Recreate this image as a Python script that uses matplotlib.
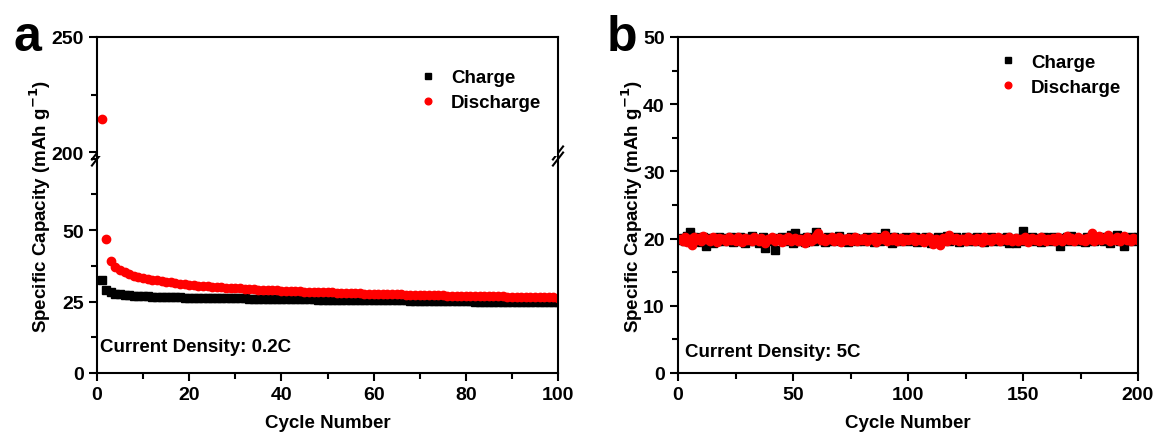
import matplotlib
matplotlib.use("Agg")
import matplotlib.pyplot as plt
from matplotlib.ticker import MultipleLocator

plt.rcParams['font.family'] = ['Liberation Sans', 'DejaVu Sans']
plt.rcParams['font.weight'] = 'bold'
plt.rcParams['mathtext.default'] = 'bf'

# panel a data (cycles 1..100, 0.2C)
cycles_a = list(range(1, 101))
charge_a = [
    32.5, 29.0, 28.2, 27.8, 27.5, 27.3, 27.2, 27.1, 27.0, 26.9,
    26.8, 26.7, 26.7, 26.6, 26.6, 26.5, 26.5, 26.5, 26.4, 26.4,
    26.4, 26.3, 26.3, 26.3, 26.2, 26.2, 26.2, 26.2, 26.1, 26.1,
    26.1, 26.1, 26.0, 26.0, 26.0, 26.0, 26.0, 25.9, 25.9, 25.9,
    25.9, 25.9, 25.8, 25.8, 25.8, 25.8, 25.8, 25.7, 25.7, 25.7,
    25.7, 25.7, 25.6, 25.6, 25.6, 25.6, 25.6, 25.5, 25.5, 25.5,
    25.5, 25.5, 25.4, 25.4, 25.4, 25.4, 25.4, 25.3, 25.3, 25.3,
    25.3, 25.3, 25.2, 25.2, 25.2, 25.2, 25.2, 25.1, 25.1, 25.1,
    25.1, 25.0, 25.0, 25.0, 25.0, 25.0, 24.9, 24.9, 24.9, 24.9,
    24.9, 24.8, 24.8, 24.8, 24.8, 24.8, 24.7, 24.7, 24.7, 24.7,
]
discharge_a = [
    214.5, 47.0, 39.0, 37.0, 36.0, 35.2, 34.6, 34.1, 33.7, 33.3,
    33.0, 32.7, 32.4, 32.1, 31.9, 31.7, 31.5, 31.3, 31.1, 30.9,
    30.8, 30.6, 30.5, 30.3, 30.2, 30.1, 30.0, 29.9, 29.8, 29.7,
    29.6, 29.5, 29.4, 29.3, 29.2, 29.1, 29.0, 29.0, 28.9, 28.8,
    28.8, 28.7, 28.6, 28.6, 28.5, 28.5, 28.4, 28.3, 28.3, 28.2,
    28.2, 28.1, 28.1, 28.0, 28.0, 27.9, 27.9, 27.8, 27.8, 27.7,
    27.7, 27.6, 27.6, 27.6, 27.5, 27.5, 27.4, 27.4, 27.4, 27.3,
    27.3, 27.3, 27.2, 27.2, 27.2, 27.1, 27.1, 27.1, 27.0, 27.0,
    27.0, 26.9, 26.9, 26.9, 26.8, 26.8, 26.8, 26.8, 26.7, 26.7,
    26.7, 26.6, 26.6, 26.6, 26.6, 26.5, 26.5, 26.5, 26.5, 26.4,
]

# panel b data (cycles 1..200, 5C)
cycles_b = list(range(1, 201))
charge_b = [
    19.8, 20.1, 19.6, 20.4, 21.0, 19.9, 20.2, 19.7, 20.0, 19.5, 20.3, 18.9, 19.8, 20.1, 19.4, 20.0, 19.7, 20.2, 19.9, 19.6,
    20.1, 19.8, 20.3, 19.5, 20.0, 19.7, 20.2, 19.9, 19.4, 20.1, 19.8, 20.4, 19.6, 20.0, 19.3, 19.9, 20.2, 18.6, 19.8, 20.0,
    19.7, 18.3, 20.1, 19.9, 20.3, 19.6, 20.0, 19.8, 20.5, 19.4, 20.9, 19.7, 20.1, 19.9, 19.5, 20.2, 19.8, 20.0, 19.6, 21.0,
    20.3, 19.8, 20.0, 19.5, 20.2, 19.9, 19.7, 20.1, 19.8, 20.4, 19.6, 20.0, 19.9, 19.5, 20.2, 19.8, 20.1, 19.7, 20.0, 19.9,
    19.6, 20.2, 19.8, 20.0, 19.5, 20.3, 19.9, 19.7, 20.1, 20.9, 19.8, 20.0, 19.4, 20.2, 19.9, 19.7, 20.1, 19.8, 20.3, 19.6,
    20.0, 19.8, 20.2, 19.5, 19.9, 20.1, 19.7, 20.3, 19.8, 19.4, 20.0, 19.9, 20.2, 19.6, 20.1, 19.8, 20.4, 19.7, 20.0, 19.9,
    20.2, 19.5, 20.0, 19.8, 20.3, 19.7, 20.1, 19.9, 19.6, 20.2, 19.8, 20.0, 19.5, 20.1, 19.9, 20.3, 19.7, 20.0, 19.8, 19.6,
    20.1, 19.9, 20.2, 19.4, 20.0, 19.8, 19.3, 20.1, 19.9, 21.1, 19.7, 20.0, 19.8, 20.3, 19.6, 20.1, 19.9, 19.5, 20.2, 19.8,
    20.0, 19.7, 20.3, 19.9, 20.1, 18.9, 20.0, 19.8, 20.2, 19.6, 20.4, 19.9, 20.1, 19.7, 20.0, 19.8, 19.5, 20.2, 19.9, 20.1,
    19.7, 20.0, 19.8, 20.3, 19.6, 20.1, 19.9, 19.4, 20.2, 19.8, 20.6, 19.7, 20.0, 18.9, 20.1, 19.8, 20.3, 19.6, 20.0, 20.2,
]
discharge_b = [
    20.0, 19.7, 20.2, 19.5, 19.9, 19.1, 20.3, 19.8, 20.1, 19.6, 20.4, 19.9, 20.0, 19.7, 20.2, 19.8, 19.5, 20.1, 19.9, 20.0,
    19.6, 20.2, 19.8, 20.0, 19.7, 20.3, 19.9, 19.5, 20.1, 19.8, 20.0, 19.6, 20.2, 19.9, 19.7, 20.1, 19.8, 19.4, 20.0, 19.9,
    20.2, 19.7, 19.9, 20.1, 19.5, 20.0, 19.8, 20.3, 19.6, 19.9, 20.1, 19.7, 20.0, 19.8, 19.4, 20.2, 19.9, 19.6, 20.0, 20.4,
    20.9, 19.8, 20.1, 19.6, 20.0, 19.9, 20.3, 19.7, 19.9, 20.2, 19.5, 20.0, 19.8, 20.1, 19.7, 19.9, 20.2, 19.6, 20.0, 19.8,
    20.1, 19.7, 20.0, 19.9, 20.3, 19.5, 19.8, 20.1, 19.9, 20.6, 19.7, 20.0, 19.8, 20.2, 19.6, 19.9, 20.1, 19.7, 20.0, 19.8,
    19.9, 20.2, 19.6, 20.0, 19.8, 20.1, 19.5, 19.9, 20.3, 19.7, 19.2, 20.0, 19.8, 19.1, 20.1, 19.9, 19.6, 20.6, 20.0, 19.8,
    20.1, 19.7, 20.0, 19.9, 19.6, 20.2, 19.8, 20.0, 19.7, 20.1, 19.9, 19.5, 20.2, 19.8, 20.0, 19.6, 20.1, 19.9, 20.3, 19.7,
    19.9, 20.0, 19.8, 20.2, 19.6, 19.9, 20.1, 19.7, 20.0, 19.8, 20.3, 19.5, 19.9, 20.1, 19.8, 20.0, 19.7, 20.2, 19.9, 19.6,
    20.0, 19.8, 20.1, 19.7, 20.3, 19.9, 19.6, 20.0, 20.4, 19.8, 20.1, 19.7, 19.9, 20.2, 19.8, 20.0, 19.6, 20.1, 19.9, 20.8,
    19.7, 20.0, 20.4, 19.8, 20.1, 19.9, 20.5, 19.7, 20.0, 19.8, 20.2, 19.6, 19.9, 20.4, 19.8, 20.0, 19.7, 20.1, 19.9, 19.8,
]

W, H = 1156, 439
fig = plt.figure(figsize=(W / 100, H / 100), dpi=100)

def box(x0, y0, x1, y1):
    # pixel box (top-left origin) -> figure fraction
    return [x0 / W, 1 - y1 / H, (x1 - x0) / W, (y1 - y0) / H]

TICK_FS = 14
LABEL_FS = 13.5
TEXT_FS = 13.5
LW = 1.5

def style(ax, left=True, bottom=True):
    for s in ax.spines.values():
        s.set_linewidth(LW)
    ax.tick_params(which='both', direction='out', width=LW, top=False, right=False,
                   labelsize=TICK_FS, left=left, labelleft=left,
                   bottom=bottom, labelbottom=bottom)
    ax.tick_params(which='major', length=6)
    ax.tick_params(which='minor', length=4)
    for lab in ax.get_xticklabels() + ax.get_yticklabels():
        lab.set_fontweight('bold')

# ---- panel a: broken y axis ----
y_break = 157
ax_lo = fig.add_axes(box(97, y_break, 558, 374))
ax_hi = fig.add_axes(box(97, 38, 558, y_break))

for ax in (ax_lo, ax_hi):
    ax.plot(cycles_a, charge_a, 's', color='black', markersize=5.5, label='Charge')
    ax.plot(cycles_a, discharge_a, 'o', color='#ff0000', markersize=6, label='Discharge')
    ax.set_xlim(0, 100)
    ax.xaxis.set_major_locator(MultipleLocator(20))
    ax.xaxis.set_minor_locator(MultipleLocator(10))

ax_lo.set_ylim(0, 75.9)
ax_lo.set_yticks([0, 25, 50])
ax_lo.yaxis.set_minor_locator(MultipleLocator(12.5))
ax_lo.spines['top'].set_visible(False)
style(ax_lo)
ax_lo.set_xlabel('Cycle Number', fontsize=LABEL_FS, fontweight='bold', labelpad=8)

ax_hi.set_ylim(198.3, 250)
ax_hi.set_yticks([200, 250])
ax_hi.yaxis.set_minor_locator(MultipleLocator(25))
ax_hi.spines['bottom'].set_visible(False)
style(ax_hi, bottom=False)

# break marks on both side spines
for xs in (0, 1):
    for dy in (-0.014, 0.014):
        ax_lo.plot([xs - 0.011, xs + 0.011], [1 + dy - 0.03, 1 + dy + 0.03],
                   transform=ax_lo.transAxes, color='black', lw=LW, clip_on=False)

ax_hi.legend(loc='upper right', bbox_to_anchor=(1.0, 0.87), frameon=False,
             prop={'size': TEXT_FS, 'weight': 'bold'}, handletextpad=0.6,
             labelspacing=0.42, markerscale=0.8, handlelength=1.2)
ax_lo.text(0.007, 0.085, 'Current Density: 0.2C', transform=ax_lo.transAxes,
           fontsize=TEXT_FS, fontweight='bold', va='bottom', ha='left')

fig.text(40 / W, 1 - 206 / H, 'Specific Capacity (mAh g$^{-1}$)', rotation=90,
         ha='center', va='center', fontsize=LABEL_FS, fontweight='bold')
fig.text(27 / W, 1 - 38 / H, 'a', fontsize=36, fontweight='bold', ha='center', va='center')

# ---- panel b ----
ax_b = fig.add_axes(box(678, 38, 1138, 374))
ax_b.plot(cycles_b, charge_b, 's', color='black', markersize=5.5, label='Charge')
ax_b.plot(cycles_b, discharge_b, 'o', color='#ff0000', markersize=6, label='Discharge')
ax_b.set_xlim(0, 200)
ax_b.set_ylim(0, 50)
ax_b.xaxis.set_major_locator(MultipleLocator(50))
ax_b.xaxis.set_minor_locator(MultipleLocator(25))
ax_b.yaxis.set_major_locator(MultipleLocator(10))
ax_b.yaxis.set_minor_locator(MultipleLocator(5))
style(ax_b)
ax_b.set_xlabel('Cycle Number', fontsize=LABEL_FS, fontweight='bold', labelpad=8)
ax_b.legend(loc='upper right', bbox_to_anchor=(1.0, 1.0), frameon=False,
            prop={'size': TEXT_FS, 'weight': 'bold'}, handletextpad=0.6,
            labelspacing=0.42, markerscale=0.8, handlelength=1.2)
ax_b.text(0.015, 0.04, 'Current Density: 5C', transform=ax_b.transAxes,
          fontsize=TEXT_FS, fontweight='bold', va='bottom', ha='left')

fig.text(632 / W, 1 - 206 / H, 'Specific Capacity (mAh g$^{-1}$)', rotation=90,
         ha='center', va='center', fontsize=LABEL_FS, fontweight='bold')
fig.text(622 / W, 1 - 38 / H, 'b', fontsize=36, fontweight='bold', ha='center', va='center')

fig.savefig('out.png', dpi=100)
